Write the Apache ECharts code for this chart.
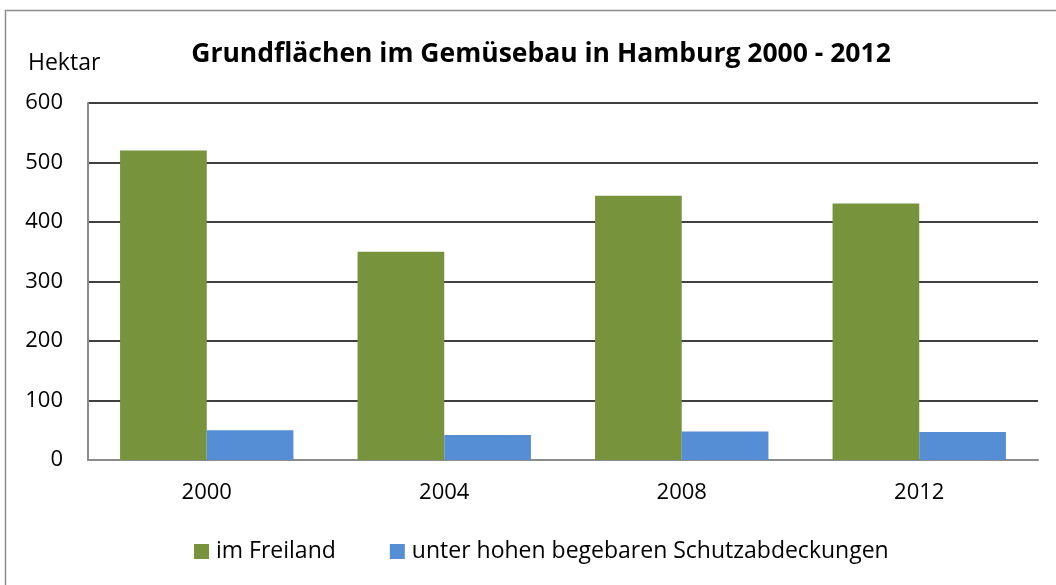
<!DOCTYPE html>
<html>
<head>
<meta charset="utf-8">
<script src="https://cdn.jsdelivr.net/npm/echarts@6/dist/echarts.min.js"></script>
<style>
  html, body { margin: 0; padding: 0; background: #fff; }
  #chart { width: 1056px; height: 585px; }
</style>
</head>
<body>
<div id="chart"></div>
<script>
var years = ['2000', '2004', '2008', '2012'];
var freiland = [520, 350, 444, 431];
var schutz = [50, 42, 48, 47];
var yTicks = [0, 100, 200, 300, 400, 500, 600];

var font = 'Open Sans';
var chart = echarts.init(document.getElementById('chart'));
chart.setOption({
  animation: false,
  textStyle: { fontFamily: font },
  graphic: [{
    type: 'rect',
    shape: { x: 5.5, y: 10.5, width: 1100, height: 620 },
    style: { fill: 'none', stroke: '#8c8c8c', lineWidth: 1.5 },
    silent: true
  }],
  title: [{
    text: 'Grundflächen im Gemüsebau in Hamburg 2000 - 2012',
    left: 536, top: 36, textAlign: 'center',
    textStyle: { fontFamily: font, fontSize: 26.5, fontWeight: 'bold', color: '#000' }
  }, {
    text: 'Hektar',
    left: 23, top: 47,
    textStyle: { fontFamily: font, fontSize: 23, fontWeight: 'normal', color: '#000' }
  }],
  legend: {
    data: ['im Freiland', 'unter hohen begebaren Schutzabdeckungen'],
    left: 189, top: 535,
    itemWidth: 15, itemHeight: 15, itemGap: 54,
    icon: 'rect',
    textStyle: { fontFamily: font, fontSize: 23, color: '#000', padding: [0, 0, 0, 2] }
  },
  grid: { left: 88, right: 18, top: 103, bottom: 125, containLabel: false },
  xAxis: {
    type: 'category',
    data: years,
    axisLine: { lineStyle: { color: '#8c8c8c', width: 2 } },
    axisTick: { show: false },
    axisLabel: { fontFamily: font, fontSize: 22, color: '#000', margin: 22 }
  },
  yAxis: {
    type: 'value',
    min: yTicks[0], max: yTicks[yTicks.length - 1], interval: 100,
    axisLine: { show: true, lineStyle: { color: '#8c8c8c', width: 2 } },
    axisTick: { show: false },
    axisLabel: { fontFamily: font, fontSize: 22, color: '#000', margin: 25 },
    splitLine: { lineStyle: { color: '#000', width: 1.6 } }
  },
  series: [{
    name: 'im Freiland',
    type: 'bar',
    data: freiland,
    barGap: '0%',
    barCategoryGap: '27%',
    itemStyle: { color: '#77933c' }
  }, {
    name: 'unter hohen begebaren Schutzabdeckungen',
    type: 'bar',
    data: schutz,
    itemStyle: { color: '#558ed5' }
  }]
});
</script>
</body>
</html>
